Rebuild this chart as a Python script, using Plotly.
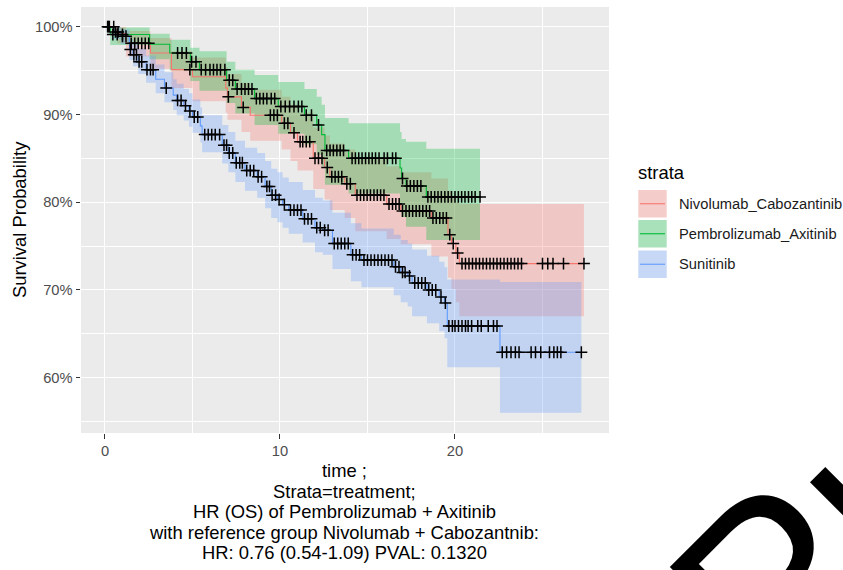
import plotly.graph_objects as go

# ---------------- data ----------------
strata = ["Nivolumab_Cabozantinib", "Pembrolizumab_Axitinib", "Sunitinib"]
colors = ["#F8766D", "#00BA38", "#619CFF"]
fills = ["rgba(248,118,109,0.3)", "rgba(0,186,56,0.3)", "rgba(97,156,255,0.3)"]

# Nivolumab + Cabozantinib: Kaplan-Meier steps (time, survival %), CI, censoring
nc_time = [0, 0.7, 1.2, 2.6, 3.8, 5.0, 6.9, 7.0, 7.8, 8.3, 10.1, 10.6, 11.0, 11.9,
           12.55, 12.85, 13.7, 14.3, 16.1, 16.9, 18.65, 19.6, 19.8, 20.05, 20.25]
nc_surv = [100, 99.2, 98.1, 97.0, 95.1, 94.3, 93.0, 92.0, 90.8, 89.9, 89.0, 87.9, 86.9, 85.0,
           83.95, 82.9, 82.1, 80.8, 79.8, 79.0, 78.2, 76.3, 75.3, 74.2, 73.0]
nc_upper = [100, 100, 99.5, 98.7, 97.2, 96.5, 95.4, 94.6, 93.6, 92.8, 92.0, 91.1, 90.2, 88.5,
            87.6, 86.7, 86.0, 84.9, 84.1, 83.4, 82.7, 81.3, 80.6, 80.0, 79.8]
nc_lower = [100, 98.1, 96.6, 95.2, 93.0, 91.5, 90.2, 89.4, 88.0, 87.0, 86.0, 84.7, 83.6, 81.5,
            80.3, 79.1, 78.2, 76.7, 75.8, 75.2, 73.8, 71.4, 70.1, 68.6, 67.0]
nc_end = 27.37
nc_censor = [0.25, 0.5, 1.5, 1.7, 1.9, 2.1, 2.3, 2.5, 4.85, 7.05, 7.9, 9.45, 9.65, 9.85,
             10.25, 10.45, 10.8, 11.15, 11.3, 11.5, 11.7, 12.0, 12.2, 12.4, 12.7, 12.96,
             13.15, 13.34, 13.53, 13.82, 14.02, 14.4, 14.6, 14.79, 14.98, 15.17, 15.37,
             15.56, 15.75, 15.94, 16.23, 16.43, 16.62, 16.81, 17.0, 17.2, 17.39, 17.58,
             17.78, 17.97, 18.16, 18.36, 18.55, 18.74, 18.93, 19.13, 19.32, 19.51, 19.7,
             19.9, 20.15, 20.4, 20.6, 20.8, 21.0, 21.2, 21.4, 21.6, 21.8, 22.0, 22.2, 22.4,
             22.6, 22.8, 23.0, 23.2, 23.4, 23.6, 23.8, 25.0, 25.3, 25.6, 26.2, 27.37]

# Pembrolizumab + Axitinib
pa_time = [0, 0.3, 2.55, 3.7, 4.88, 5.4, 6.95, 7.45, 8.55, 9.9, 11.4, 12.1, 12.38, 12.57,
           13.92, 16.86, 16.95, 17.2, 18.36]
pa_surv = [100, 99.1, 98.0, 97.0, 96.0, 95.1, 93.9, 92.9, 91.8, 90.9, 89.9, 88.8, 87.7, 85.9,
           85.0, 83.9, 82.7, 81.85, 80.6]
pa_upper = [100, 99.9, 99.2, 98.5, 97.6, 97.2, 96.0, 95.1, 94.5, 93.7, 92.9, 92.0, 91.1, 89.6,
            89.0, 88.0, 87.2, 86.9, 86.1]
pa_lower = [100, 97.9, 96.3, 95.0, 93.8, 92.7, 91.3, 90.1, 88.8, 87.8, 86.6, 85.4, 84.1, 82.0,
            81.0, 79.7, 78.3, 77.2, 75.7]
pa_end = 21.43
pa_censor = [0.2, 0.45, 0.7, 1.0, 4.15, 4.4, 4.65, 4.95, 5.2, 5.5, 5.75, 6.0, 6.2, 6.4, 6.6,
             6.85, 7.1, 7.3, 7.55, 7.8, 8.0, 8.2, 8.4, 8.65, 8.85, 9.05, 9.25, 9.5, 9.7,
             10.05, 10.3, 10.55, 10.8, 11.05, 11.25, 11.5, 11.8, 12.2, 12.67, 12.86, 13.05,
             13.25, 13.44, 13.63, 14.12, 14.31, 14.5, 14.69, 14.89, 15.08, 15.27, 15.46,
             15.66, 15.95, 16.14, 16.43, 16.62, 17.0, 17.25, 17.45, 17.65, 17.85, 18.05,
             18.45, 18.64, 18.84, 19.03, 19.22, 19.42, 19.61, 19.8, 20.0, 20.19, 20.38,
             20.57, 20.77, 20.96, 21.15, 21.43]

# Sunitinib
su_time = [0, 0.5, 0.9, 1.4, 1.6, 1.9, 2.35, 2.9, 3.4, 3.9, 4.1, 4.5, 4.8, 5.0, 5.45, 5.55,
           6.7, 7.05, 7.45, 8.0, 8.7, 9.15, 9.5, 9.85, 10.15, 10.5, 11.3, 12.0, 12.45, 13.0,
           14.05, 14.65, 16.5, 16.9, 17.3, 17.55, 18.4, 19.1, 19.4, 19.56, 22.57]
su_surv = [100, 99.4, 98.9, 97.4, 96.8, 96.0, 95.1, 94.0, 93.0, 92.2, 91.6, 91.0, 90.4, 89.7,
           88.7, 87.7, 86.5, 85.6, 84.5, 83.6, 82.9, 81.8, 80.8, 80.3, 79.7, 79.1, 78.1, 77.1,
           76.8, 75.3, 74.0, 73.4, 72.65, 72.0, 71.6, 70.8, 70.0, 69.2, 68.5, 65.9, 62.9]
su_upper = [100, 100, 99.7, 98.6, 98.1, 97.5, 96.7, 95.7, 94.8, 94.0, 93.5, 92.9, 92.4, 91.7,
            90.8, 89.9, 88.8, 88.0, 87.0, 86.2, 85.6, 84.7, 83.8, 83.4, 82.8, 82.3, 81.4, 80.5,
            80.2, 78.8, 77.6, 77.0, 76.3, 75.7, 75.3, 74.6, 73.9, 73.2, 72.6, 71.2, 70.9]
su_lower = [100, 98.6, 98.0, 96.2, 95.5, 94.6, 93.6, 92.4, 91.4, 90.5, 89.9, 89.3, 88.6, 87.9,
            86.8, 85.7, 84.4, 83.4, 82.3, 81.3, 80.5, 79.3, 78.2, 77.7, 77.1, 76.4, 75.4, 74.3,
            74.0, 72.4, 71.0, 70.3, 69.4, 68.6, 68.1, 67.0, 66.2, 65.3, 64.5, 61.2, 56.0]
su_end = 27.22
su_censor = [0.15, 0.6, 0.75, 1.0, 1.2, 1.45, 1.65, 1.8, 1.95, 2.1, 2.4, 2.6, 2.75, 3.5, 4.15,
             4.35, 4.6, 4.85, 5.1, 5.3, 5.7, 5.9, 6.1, 6.3, 6.55, 6.8, 6.95, 7.1, 7.3, 7.5,
             7.7, 7.85, 8.1, 8.3, 8.5, 8.75, 8.95, 9.25, 9.4, 9.55, 9.75, 9.95, 10.25, 10.6,
             10.8, 11.0, 11.2, 11.4, 11.6, 11.8, 12.1, 12.3, 12.55, 12.75, 13.1, 13.3, 13.5,
             13.7, 13.9, 14.15, 14.35, 14.55, 14.8, 15.0, 15.2, 15.4, 15.6, 15.8, 16.0, 16.2,
             16.4, 16.6, 16.8, 17.0, 17.15, 17.4, 17.7, 17.9, 18.1, 18.3, 18.5, 18.7, 18.9,
             19.2, 19.45, 19.65, 19.85, 20.0, 20.2, 20.4, 20.6, 20.75, 20.95, 21.3, 21.5,
             21.9, 22.2, 22.4, 22.7, 22.95, 23.2, 23.45, 23.66, 24.35, 24.6, 24.9, 25.4,
             25.65, 25.85, 26.05, 27.22]

y_ticks = [60, 70, 80, 90, 100]
y_ticktext = ["60%", "70%", "80%", "90%", "100%"]
x_ticks = [0, 10, 20]

x_title_lines = [
    "time ;",
    "Strata=treatment;",
    "HR (OS) of Pembrolizumab + Axitinib",
    "with reference group Nivolumab + Cabozantnib:",
    "HR: 0.76 (0.54-1.09) PVAL: 0.1320",
]

series = [
    (nc_time, nc_surv, nc_upper, nc_lower, nc_end, nc_censor),
    (pa_time, pa_surv, pa_upper, pa_lower, pa_end, pa_censor),
    (su_time, su_surv, su_upper, su_lower, su_end, su_censor),
]


# ---------------- helpers ----------------
def step_path(times, values, end):
    xs, ys = [], []
    for i, (t, v) in enumerate(zip(times, values)):
        t_next = times[i + 1] if i + 1 < len(times) else end
        xs += [t, t_next]
        ys += [v, v]
    return xs, ys


def value_at(times, values, t):
    v = values[0]
    for ti, vi in zip(times, values):
        if ti <= t:
            v = vi
        else:
            break
    return v


fig = go.Figure()

# confidence ribbons
for (tm, sv, up, lo, end, cen), fc in zip(series, fills):
    ux, uy = step_path(tm, up, end)
    lx, ly = step_path(tm, lo, end)
    fig.add_trace(go.Scatter(
        x=ux + lx[::-1], y=uy + ly[::-1], mode="lines", fill="toself",
        fillcolor=fc, line=dict(width=0), hoverinfo="skip", showlegend=False))

# survival curves
for (tm, sv, up, lo, end, cen), col, name in zip(series, colors, strata):
    sx, sy = step_path(tm, sv, end)
    fig.add_trace(go.Scatter(x=sx, y=sy, mode="lines", name=name,
                             line=dict(color=col, width=1.1), showlegend=False))

# censoring marks
for (tm, sv, up, lo, end, cen) in series:
    fig.add_trace(go.Scatter(
        x=cen, y=[value_at(tm, sv, c) for c in cen], mode="markers",
        marker=dict(symbol="cross-thin", size=8.5, line=dict(color="black", width=1.5)),
        showlegend=False, hoverinfo="skip"))

# ---------------- layout ----------------
W_PX, H_PX = 843, 570
L, R, T, B = 81, 609, 7, 433
PW, PH = R - L, B - T


def fx(px):
    return (px - L) / PW


def fy(py):
    return (B - py) / PH


FONT = "Liberation Sans, Arial, sans-serif"
annotations = []
shapes = []

# y axis title
annotations.append(dict(xref="paper", yref="paper", x=fx(19), y=fy(220),
                        text="Survival Probability", textangle=-90, showarrow=False,
                        font=dict(family=FONT, size=18.4, color="black"),
                        xanchor="center", yanchor="middle"))

# x axis title (multi-line)
line_y = [470.5, 491, 511.5, 532, 552.5]
for txt, py in zip(x_title_lines, line_y):
    annotations.append(dict(xref="paper", yref="paper", x=fx(344), y=fy(py), text=txt,
                            showarrow=False, font=dict(family=FONT, size=18.4, color="black"),
                            xanchor="center", yanchor="middle"))

# legend
annotations.append(dict(xref="paper", yref="paper", x=fx(636), y=fy(173), text="strata",
                        showarrow=False, font=dict(family=FONT, size=18.4, color="black"),
                        xanchor="left", yanchor="middle"))
key_tops = [190, 220, 250.5]
key_h = 27.5
for name, col, fc, top in zip(strata, colors, fills, key_tops):
    shapes.append(dict(type="rect", xref="paper", yref="paper", x0=fx(638.3), x1=fx(666.7),
                       y0=fy(top + key_h), y1=fy(top), fillcolor="#F2F2F2", line=dict(width=0)))
    shapes.append(dict(type="rect", xref="paper", yref="paper", x0=fx(638.3), x1=fx(666.7),
                       y0=fy(top + key_h), y1=fy(top), fillcolor=fc, line=dict(width=0)))
    shapes.append(dict(type="line", xref="paper", yref="paper", x0=fx(640), x1=fx(665),
                       y0=fy(top + key_h / 2), y1=fy(top + key_h / 2),
                       line=dict(color=col, width=1.1)))
    annotations.append(dict(xref="paper", yref="paper", x=fx(677), y=fy(top + key_h / 2),
                            text=name, showarrow=False,
                            font=dict(family=FONT, size=14.7, color="#1A1A1A"),
                            xanchor="left", yanchor="middle"))

# watermark text in the lower right corner
annotations.append(dict(xref="paper", yref="paper", x=fx(950), y=fy(405), text="Public",
                        textangle=-45, showarrow=False,
                        font=dict(family=FONT, size=245, color="black"),
                        xanchor="center", yanchor="middle"))

fig.update_layout(
    width=W_PX, height=H_PX, autosize=False,
    margin=dict(l=L, r=W_PX - R, t=T, b=H_PX - B, pad=0),
    paper_bgcolor="white", plot_bgcolor="#EBEBEB",
    font=dict(family=FONT),
    showlegend=False,
    annotations=annotations, shapes=shapes,
)
fig.update_xaxes(
    range=[-1.37, 28.8], tickvals=x_ticks, ticks="outside", ticklen=4.5, tickwidth=1,
    tickcolor="#333333", tickfont=dict(size=14.7, color="#4D4D4D", family=FONT),
    showgrid=True, gridcolor="white", gridwidth=1.2, zeroline=False, showline=False,
    minor=dict(tickvals=[5, 15, 25], showgrid=True, gridcolor="white", gridwidth=0.6, ticks=""),
)
fig.update_yaxes(
    range=[53.7, 102.24], tickvals=y_ticks, ticktext=y_ticktext, ticks="outside",
    ticklen=4.5, tickwidth=1, tickcolor="#333333",
    tickfont=dict(size=14.7, color="#4D4D4D", family=FONT),
    showgrid=True, gridcolor="white", gridwidth=1.2, zeroline=False, showline=False,
    minor=dict(tickvals=[55, 65, 75, 85, 95], showgrid=True, gridcolor="white",
               gridwidth=0.6, ticks=""),
)

fig.write_html("out.html")
